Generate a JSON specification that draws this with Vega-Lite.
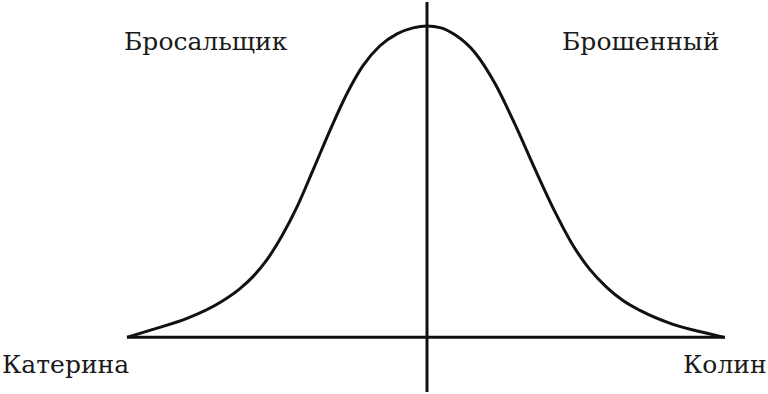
{
  "$schema": "https://vega.github.io/schema/vega-lite/v6.json",
  "width": 768,
  "height": 394,
  "padding": 0,
  "autosize": {"type": "fit", "contains": "padding"},
  "background": "white",
  "config": {"view": {"stroke": null}},
  "datasets": {
    "curve": [
      {"x": -300, "y": 0}, {"x": -274, "y": 8}, {"x": -240, "y": 19}, {"x": -207, "y": 35},
      {"x": -187, "y": 49}, {"x": -174, "y": 61}, {"x": -160, "y": 78}, {"x": -145, "y": 102},
      {"x": -130, "y": 131}, {"x": -114, "y": 168}, {"x": -97, "y": 208}, {"x": -80, "y": 245},
      {"x": -64, "y": 273}, {"x": -47, "y": 293}, {"x": -30, "y": 305}, {"x": -14, "y": 311},
      {"x": 0, "y": 313}, {"x": 14, "y": 311}, {"x": 28, "y": 304}, {"x": 48, "y": 286},
      {"x": 68, "y": 255}, {"x": 88, "y": 214}, {"x": 108, "y": 169}, {"x": 128, "y": 126},
      {"x": 145, "y": 94}, {"x": 163, "y": 68}, {"x": 180, "y": 50}, {"x": 196, "y": 37},
      {"x": 213, "y": 27}, {"x": 246, "y": 13}, {"x": 280, "y": 4}, {"x": 297, "y": 0}
    ],
    "axes": [
      {"x": -300, "x2": 298, "y": 0, "y2": 0},
      {"x": 0, "x2": 0, "y": 337, "y2": -55}
    ],
    "labels": [
      {"label": "Бросальщик", "x": -303, "y": 289},
      {"label": "Брошенный", "x": 135, "y": 289},
      {"label": "Катерина", "x": -425, "y": -36},
      {"label": "Колин", "x": 256, "y": -36}
    ]
  },
  "layer": [
    {
      "data": {"name": "axes"},
      "mark": {"type": "rule", "stroke": "#111111", "strokeWidth": 3},
      "encoding": {
        "x": {"field": "x", "type": "quantitative", "scale": {"domain": [-427, 341]}, "axis": null},
        "x2": {"field": "x2"},
        "y": {"field": "y", "type": "quantitative", "scale": {"domain": [-57, 337]}, "axis": null},
        "y2": {"field": "y2"}
      }
    },
    {
      "data": {"name": "curve"},
      "mark": {"type": "line", "stroke": "#111111", "strokeWidth": 3, "interpolate": "monotone"},
      "encoding": {
        "x": {"field": "x", "type": "quantitative", "scale": {"domain": [-427, 341]}, "axis": null},
        "y": {"field": "y", "type": "quantitative", "scale": {"domain": [-57, 337]}, "axis": null}
      }
    },
    {
      "data": {"name": "labels"},
      "mark": {"type": "text", "align": "left", "baseline": "alphabetic", "font": "DejaVu Serif", "fontSize": 25, "fill": "#1a1a1a"},
      "encoding": {
        "x": {"field": "x", "type": "quantitative", "scale": {"domain": [-427, 341]}, "axis": null},
        "y": {"field": "y", "type": "quantitative", "scale": {"domain": [-57, 337]}, "axis": null},
        "text": {"field": "label"}
      }
    }
  ]
}
